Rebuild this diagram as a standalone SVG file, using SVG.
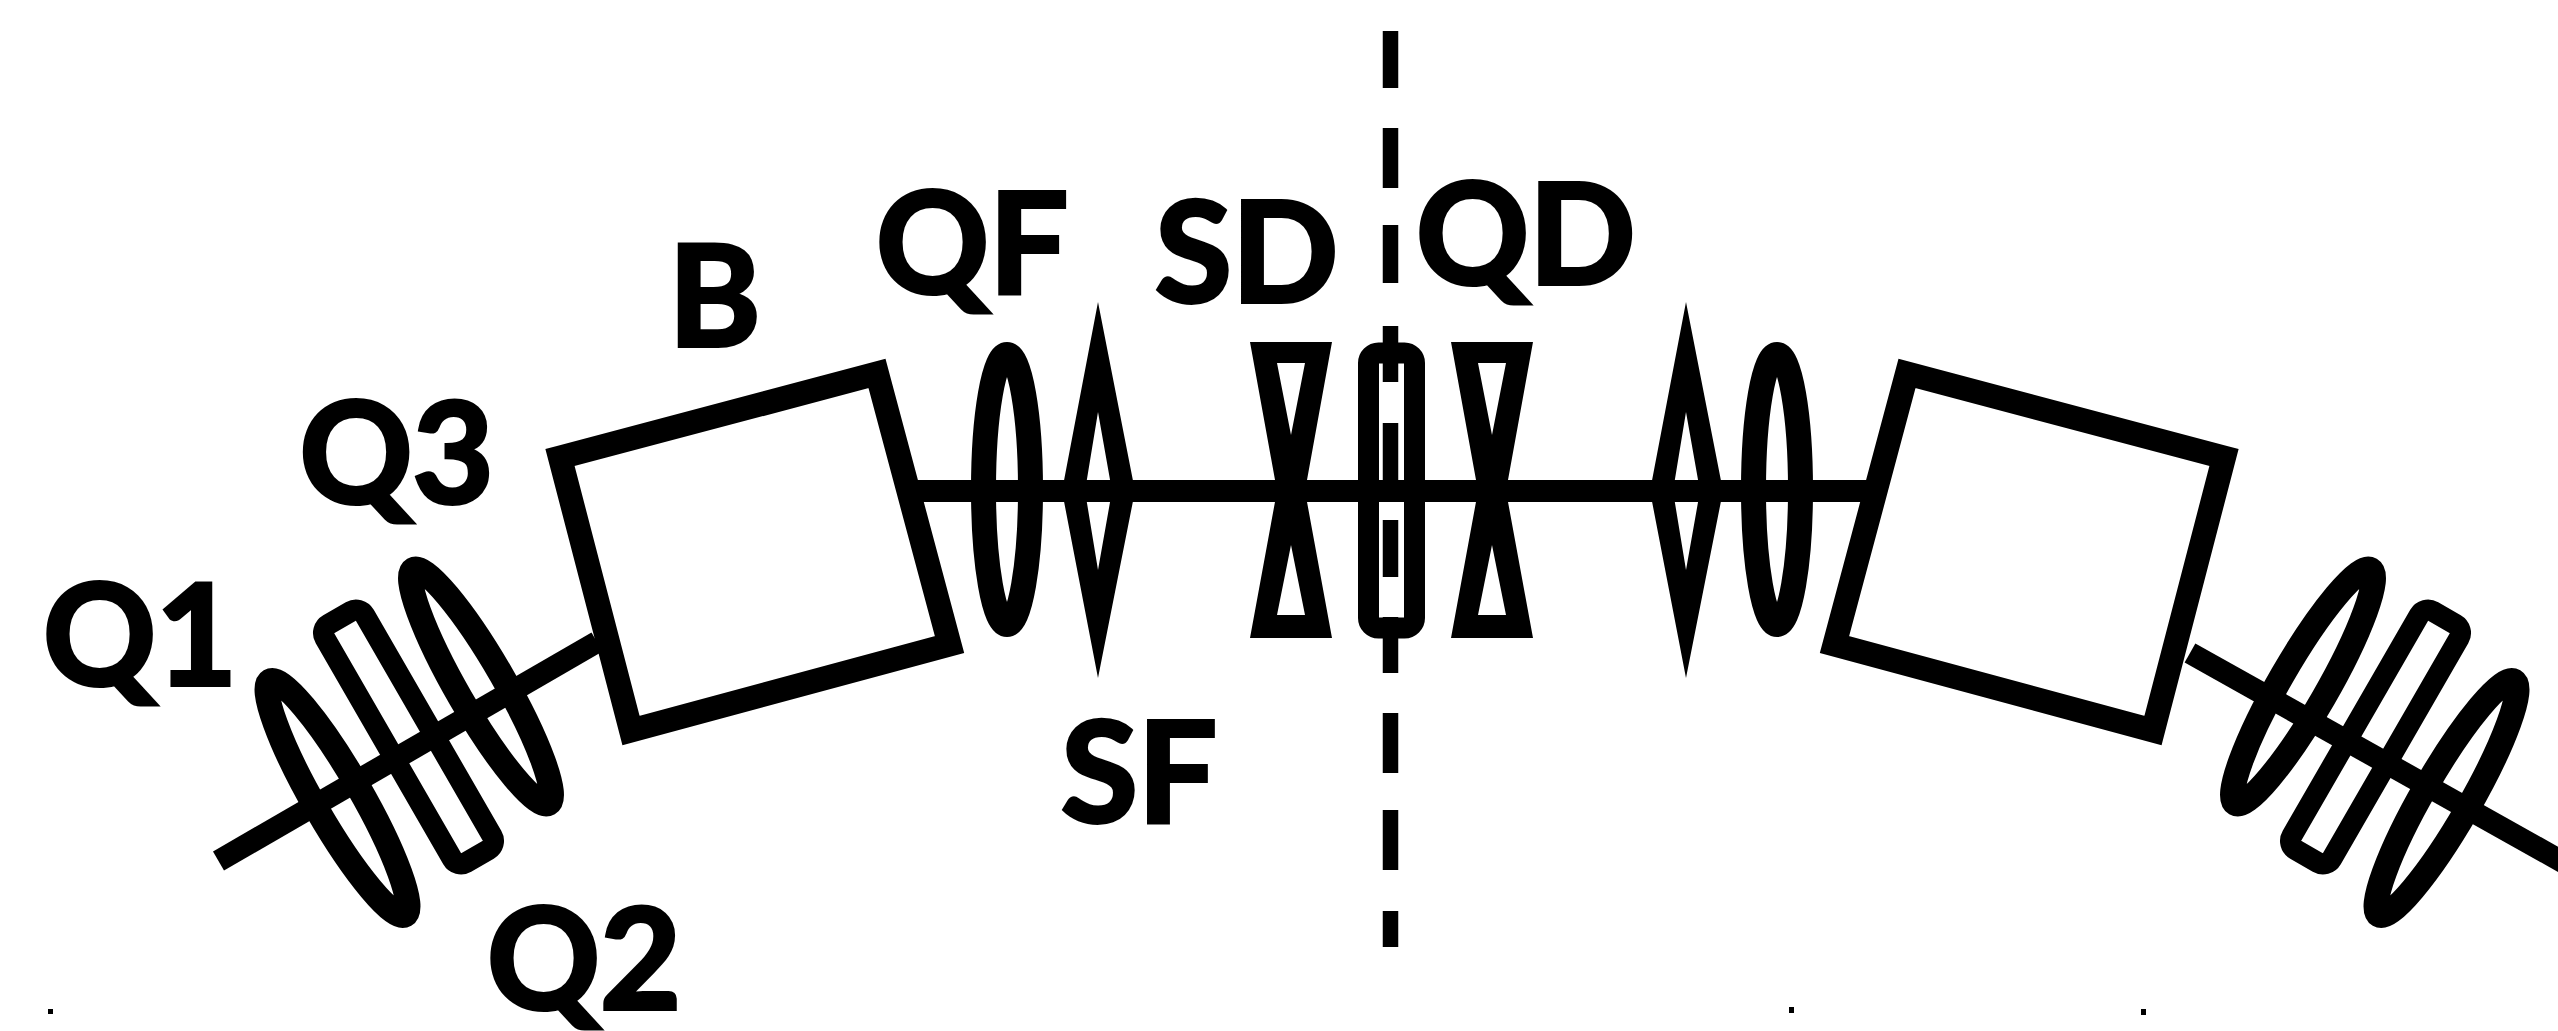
<svg xmlns="http://www.w3.org/2000/svg" width="2558" height="1031" viewBox="0 0 2558 1031">
<style>
.bg{fill:#fff}
.l{fill:none;stroke:#000;stroke-width:22}
.el{fill:none;stroke:#000;stroke-width:25}
.box{fill:none;stroke:#000;stroke-width:24;stroke-linejoin:miter;stroke-miterlimit:10}
.rr{fill:none;stroke:#000;stroke-width:21}
.s{fill:#000;fill-rule:evenodd}
text{font-family:"Lato","Liberation Sans",sans-serif;font-weight:700;font-size:140px;fill:#000;stroke:#000;stroke-width:4px}
</style>
<defs>
<ellipse id="quad" class="el" rx="23.5" ry="135"/>
<rect id="qrect" class="rr" x="-23" y="-137.5" width="46" height="275" rx="10"/>
<path id="diamond" class="s" d="M0 302L37 491L0 678L-36 491ZM0 412L14 491L0 570L-13 491Z"/>
<path id="bow" class="s" d="M-41 342H41L14 491L41 638H-41L-14 491ZM-14 363H14L0 435ZM0 545L14 615H-14Z"/>
<polygon id="bend" class="box" points="560,457.5 877,373.5 949.5,644.5 631,730.5"/>
</defs>
<rect class="bg" width="2558" height="1031"/>
<g id="connectors">
<path id="beam-centre" class="l" d="M915 491H1869"/>
<path id="beam-left" class="l" d="M218.5 861L597 642"/>
<path id="beam-right" class="l" d="M2190 653L2570 866"/>
<path id="symmetry-axis" d="M1390.5 31V88M1390.5 128V188M1390.5 225V283M1390.5 326V382M1390.5 423V480M1390.5 520V577M1390.5 617V673M1390.5 713V773M1390.5 810V870M1390.5 911V947" fill="none" stroke="#000" stroke-width="15.5"/>
</g>
<g id="node-Q1-left"><use href="#quad" transform="translate(337.5 798) rotate(-30)"/></g>
<g id="node-Q2-left"><use href="#qrect" transform="translate(408.5 737) rotate(-30)"/></g>
<g id="node-Q3-left"><use href="#quad" transform="translate(481 686.5) rotate(-30)"/></g>
<g id="node-B-left"><use href="#bend"/></g>
<g id="node-QF-left"><use href="#quad" transform="translate(1007 489.5)"/></g>
<g id="node-SF-left"><use href="#diamond" transform="translate(1098 0)"/></g>
<g id="node-SD"><use href="#bow" transform="translate(1291 0)"/></g>
<g id="node-centre"><rect class="rr" x="1368.5" y="353" width="46" height="275" rx="10"/></g>
<g id="node-QD"><use href="#bow" transform="translate(1492 0)"/></g>
<g id="node-SF-right"><use href="#diamond" transform="translate(1686 0)"/></g>
<g id="node-QF-right"><use href="#quad" transform="translate(1777 489.5)"/></g>
<g id="node-B-right"><use href="#bend" transform="matrix(-1 0 0 1 2784 0)"/></g>
<g id="node-Q3-right"><use href="#quad" transform="translate(2303 686.5) rotate(30)"/></g>
<g id="node-Q2-right"><use href="#qrect" transform="translate(2375.5 737) rotate(30)"/></g>
<g id="node-Q1-right"><use href="#quad" transform="translate(2446.5 798) rotate(30)"/></g>
<g id="labels">
<text x="668.5" y="346">B</text>
<text x="876" y="293">QF</text>
<text x="1155" y="302">SD</text>
<text x="1416" y="284">QD</text>
<text x="1061" y="822">SF</text>
<text x="43" y="685">Q1</text>
<text x="299.5" y="503">Q3</text>
<text x="487" y="1009">Q2</text>
</g>
<g id="specks" fill="#000">
<rect x="48" y="1009" width="5" height="5"/>
<rect x="1789" y="1007" width="5" height="6"/>
<rect x="2141" y="1009" width="5" height="6"/>
</g>
</svg>
